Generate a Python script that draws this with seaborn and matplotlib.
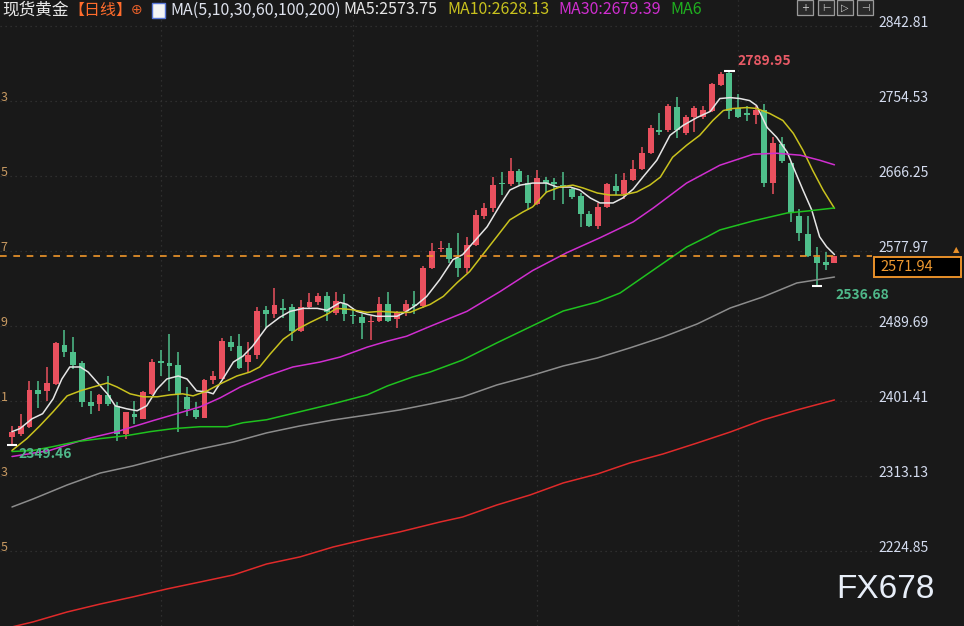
import numpy as np
import pandas as pd
import matplotlib
matplotlib.use("Agg")
import matplotlib.pyplot as plt
import matplotlib.transforms as mtransforms
from matplotlib.patches import Rectangle
import seaborn as sns

# daily candles, spot gold
opens = [2359.4, 2363.0, 2371.1, 2414.4, 2413.3, 2421.5, 2467.1, 2458.9, 2446.0, 2400.4,
         2398.1, 2408.6, 2395.7, 2363.0, 2386.4, 2380.5, 2409.8, 2448.4, 2446.0, 2443.7,
         2406.3, 2391.0, 2381.7, 2426.2, 2427.3, 2470.6, 2465.9, 2447.2, 2455.4, 2508.1,
         2503.4, 2510.4, 2511.6, 2483.5, 2511.6, 2517.4, 2524.5, 2504.6, 2515.1, 2502.2,
         2499.9, 2494.0, 2495.2, 2515.1, 2497.6, 2506.9, 2515.1, 2512.8, 2558.4, 2580.6,
         2581.8, 2570.1, 2558.4, 2585.3, 2619.3, 2628.6, 2657.9, 2656.7, 2671.9, 2657.9,
         2633.3, 2661.4, 2659.1, 2655.6, 2650.9, 2642.7, 2621.6, 2607.6, 2629.8, 2654.4,
         2645.0, 2661.4, 2674.3, 2693.0, 2719.9, 2719.9, 2748.0, 2716.4, 2735.1, 2735.1,
         2743.3, 2773.8, 2787.8, 2745.7, 2739.8, 2737.5, 2744.5, 2657.9, 2703.5, 2681.3,
         2619.3, 2598.2, 2571.3, 2565.4, 2564.3]
highs = [2372.3, 2386.4, 2425.0, 2425.0, 2441.4, 2470.6, 2484.7, 2476.5, 2448.0, 2413.3,
         2409.8, 2430.8, 2400.4, 2389.0, 2401.6, 2413.3, 2450.7, 2461.3, 2480.0, 2458.9,
         2418.0, 2400.4, 2427.3, 2436.7, 2475.3, 2477.6, 2480.0, 2470.6, 2511.6, 2512.8,
         2533.8, 2521.0, 2515.1, 2519.8, 2528.0, 2528.0, 2529.1, 2529.1, 2526.8, 2510.4,
         2503.4, 2501.1, 2523.3, 2529.1, 2506.9, 2519.8, 2530.3, 2560.7, 2587.7, 2590.0,
         2587.7, 2599.4, 2594.7, 2626.3, 2634.5, 2664.9, 2670.8, 2687.2, 2674.3, 2667.3,
         2673.1, 2664.9, 2663.7, 2670.8, 2653.2, 2646.2, 2625.1, 2634.5, 2657.9, 2668.4,
         2669.6, 2684.8, 2700.0, 2725.8, 2739.8, 2751.5, 2759.7, 2737.5, 2749.2, 2749.2,
         2776.1, 2789.0, 2789.95, 2763.2, 2749.2, 2749.2, 2751.5, 2711.7, 2711.7, 2682.5,
         2627.5, 2619.3, 2583.0, 2577.1, 2572.5]
lows = [2349.46, 2360.6, 2370.0, 2393.4, 2401.6, 2420.5, 2453.1, 2439.0, 2394.6, 2386.4,
        2389.9, 2395.0, 2354.8, 2357.1, 2374.7, 2380.0, 2409.0, 2430.8, 2413.3, 2365.3,
        2384.0, 2380.5, 2381.0, 2421.5, 2427.0, 2460.1, 2439.0, 2435.5, 2450.7, 2487.0,
        2498.7, 2498.7, 2471.8, 2483.0, 2509.3, 2513.9, 2495.2, 2503.0, 2495.2, 2491.7,
        2474.1, 2473.0, 2494.0, 2494.0, 2487.0, 2501.1, 2503.4, 2511.0, 2557.0, 2577.1,
        2564.3, 2547.9, 2552.6, 2584.0, 2615.8, 2623.9, 2643.8, 2655.0, 2655.6, 2626.3,
        2632.0, 2646.2, 2638.0, 2633.3, 2639.2, 2606.4, 2606.4, 2604.1, 2628.0, 2643.8,
        2639.2, 2660.0, 2673.0, 2692.0, 2714.1, 2718.0, 2710.6, 2714.1, 2717.6, 2733.0,
        2741.0, 2772.6, 2732.8, 2734.0, 2730.5, 2726.9, 2653.2, 2645.0, 2681.3, 2612.3,
        2590.0, 2571.3, 2536.68, 2556.1, 2564.0]
closes = [2365.3, 2372.3, 2414.4, 2409.8, 2422.6, 2469.5, 2458.9, 2443.7, 2400.4, 2395.7,
          2408.6, 2398.1, 2363.0, 2388.7, 2382.8, 2412.1, 2447.2, 2446.0, 2442.5, 2409.8,
          2392.2, 2382.8, 2426.2, 2430.8, 2471.8, 2464.8, 2440.2, 2455.4, 2506.9, 2503.4,
          2513.9, 2508.1, 2483.5, 2511.6, 2517.4, 2524.5, 2505.7, 2518.6, 2503.4, 2501.1,
          2492.9, 2495.2, 2515.1, 2495.2, 2505.7, 2515.1, 2512.8, 2558.4, 2578.3, 2581.8,
          2568.9, 2558.4, 2585.3, 2620.4, 2628.6, 2655.6, 2656.7, 2671.9, 2659.1, 2634.5,
          2663.7, 2657.9, 2656.7, 2654.4, 2641.5, 2621.6, 2607.6, 2629.8, 2656.7, 2648.5,
          2661.4, 2674.3, 2693.0, 2722.3, 2717.6, 2749.2, 2719.9, 2735.1, 2745.7, 2744.5,
          2774.9, 2786.6, 2743.3, 2735.1, 2737.5, 2744.5, 2657.9, 2704.7, 2683.6, 2622.8,
          2599.4, 2572.5, 2564.3, 2561.9, 2571.94]

# moving averages (candle index, price)
ma5_x = [0, 0.9, 2.3, 3.5, 4.7, 5.7, 6.6, 7.8, 8.7, 9.7, 10.9, 11.8, 13.1, 14.3, 15.4, 16.6,
         17.7, 19.0, 20.0, 21.1, 22.3, 23.0, 24.1, 25.3, 26.4, 27.5, 29.1, 30.6, 31.8, 33.3,
         34.9, 36.0, 37.5, 38.3, 39.4, 40.6, 41.7, 44.0, 45.1, 46.3, 47.4, 48.9, 50.4, 51.5,
         52.7, 54.3, 55.8, 56.9, 58.1, 59.5, 61.1, 62.3, 63.8, 64.9, 66.1, 67.2, 68.7, 69.8,
         71.0, 72.1, 73.7, 75.2, 76.7, 78.3, 79.8, 80.9, 82.1, 83.2, 84.3, 85.1, 86.3, 87.4,
         88.6, 89.3, 90.4, 91.4, 92.3, 93.1, 94]
ma5_y = [2365.3, 2368.8, 2380.5, 2386.4, 2403.9, 2427.3, 2441.4, 2441.4, 2435.5, 2423.8,
         2409.8, 2395.7, 2392.2, 2389.9, 2395.7, 2415.6, 2427.3, 2430.8, 2427.3, 2413.3,
         2412.1, 2409.8, 2427.3, 2447.2, 2454.2, 2465.9, 2488.2, 2499.9, 2506.9, 2510.4,
         2510.4, 2508.1, 2517.4, 2515.1, 2506.9, 2503.4, 2501.1, 2501.1, 2506.9, 2515.1,
         2524.5, 2544.4, 2567.8, 2573.6, 2587.7, 2606.4, 2632.2, 2649.7, 2655.5, 2657.9,
         2657.9, 2653.2, 2653.2, 2649.7, 2640.3, 2634.5, 2634.5, 2640.3, 2650.9, 2664.9,
         2684.8, 2714.1, 2725.8, 2735.1, 2742.2, 2757.4, 2758.5, 2757.4, 2755.0, 2749.2,
         2723.4, 2711.7, 2694.2, 2676.6, 2649.7, 2626.3, 2594.7, 2583.0, 2573.75]
ma10_x = [0, 1.7, 3.2, 4.7, 6.3, 7.8, 9.3, 10.9, 12.0, 13.5, 15.0, 16.6, 18.1, 19.5, 20.7,
          22.3, 23.8, 25.7, 27.2, 28.3, 29.5, 31.0, 32.6, 34.1, 36.0, 37.1, 38.6, 40.6, 42.1,
          44.0, 45.5, 46.6, 47.8, 49.3, 50.9, 52.3, 53.8, 55.4, 56.9, 58.4, 59.5, 61.1, 62.6,
          64.1, 65.3, 66.9, 68.3, 69.8, 71.4, 72.9, 74.1, 75.5, 77.1, 78.6, 80.1, 81.3, 82.4,
          84.0, 85.1, 86.6, 88.1, 89.3, 90.4, 91.5, 92.7, 94]
ma10_y = [2343.1, 2357.1, 2372.3, 2388.7, 2407.4, 2413.3, 2417.9, 2422.6, 2417.9, 2409.8,
          2406.3, 2406.3, 2408.6, 2409.8, 2407.4, 2413.3, 2421.5, 2430.8, 2435.5, 2441.4,
          2456.6, 2474.1, 2485.8, 2494.0, 2503.4, 2510.4, 2509.2, 2505.7, 2506.9, 2505.7,
          2505.7, 2510.4, 2515.1, 2524.5, 2540.9, 2553.7, 2573.6, 2594.7, 2614.6, 2623.9,
          2629.8, 2647.4, 2653.2, 2655.5, 2652.0, 2646.2, 2643.8, 2643.8, 2647.4, 2655.5,
          2664.9, 2688.3, 2702.4, 2714.1, 2731.6, 2743.3, 2745.7, 2746.8, 2745.7, 2739.8,
          2731.6, 2716.4, 2696.5, 2673.1, 2649.7, 2628.13]
ma30_x = [0, 4.3, 8.6, 12.0, 16.1, 19.2, 21.5, 23.8, 26.1, 29.1, 32.1, 35.2, 37.5, 40.6,
          42.9, 45.1, 47.8, 52.0, 55.8, 59.5, 63.4, 67.2, 71.0, 73.3, 77.1, 80.9, 84.7, 87.4,
          90.1, 92.3, 94]
ma30_y = [2336.0, 2343.1, 2357.1, 2365.3, 2378.2, 2387.5, 2394.5, 2405.1, 2417.9, 2430.8,
          2441.4, 2447.2, 2453.1, 2464.8, 2471.8, 2477.6, 2489.3, 2506.9, 2530.3, 2554.9,
          2575.9, 2593.5, 2612.2, 2628.6, 2657.9, 2678.9, 2691.8, 2693.0, 2690.7, 2684.8,
          2679.39]
ma60_x = [0, 2.4, 4.7, 7.4, 10.1, 13.1, 15.8, 18.4, 21.5, 24.6, 26.4, 29.1, 32.9, 36.7,
          40.6, 42.9, 45.8, 47.8, 51.5, 55.4, 59.2, 63.0, 66.9, 69.5, 73.3, 77.1, 79.4, 80.9,
          84.7, 88.6, 90.9, 94]
ma60_y = [2341.9, 2343.1, 2347.7, 2353.6, 2357.1, 2360.6, 2365.3, 2368.8, 2371.1, 2371.1,
          2375.8, 2379.3, 2388.7, 2398.1, 2408.6, 2419.1, 2429.7, 2435.5, 2449.6, 2469.7,
          2488.5, 2507.3, 2517.9, 2528.5, 2555.6, 2582.6, 2594.4, 2602.7, 2613.3, 2622.7,
          2625.0, 2628.6]
ma100_x = [0, 2.4, 6.3, 10.1, 13.8, 17.7, 21.5, 25.3, 29.1, 32.9, 36.7, 40.6, 44.3, 47.8,
           51.5, 55.4, 59.2, 63.0, 66.9, 70.6, 74.4, 78.3, 82.1, 85.8, 89.7, 94]
ma100_y = [2276.6, 2286.0, 2302.5, 2316.6, 2324.9, 2335.5, 2344.9, 2353.1, 2363.8, 2372.0,
           2379.0, 2384.9, 2390.8, 2397.9, 2406.1, 2420.2, 2430.8, 2442.6, 2452.0, 2463.8,
           2476.7, 2492.0, 2510.9, 2523.8, 2540.3, 2547.3]
ma200_x = [0, 2.4, 6.3, 10.1, 13.8, 17.7, 21.5, 25.3, 29.1, 32.9, 36.7, 40.6, 44.3, 48.9,
           51.5, 55.4, 59.2, 63.0, 66.9, 70.6, 74.4, 78.3, 82.1, 85.8, 89.7, 94]
ma200_y = [2135.4, 2141.3, 2153.0, 2162.4, 2170.7, 2180.1, 2188.3, 2196.6, 2209.5, 2217.8,
           2229.5, 2239.0, 2247.2, 2258.9, 2264.8, 2278.9, 2290.7, 2304.9, 2315.4, 2328.4,
           2339.0, 2351.9, 2364.9, 2379.0, 2390.8, 2402.6]

tick_prices = [2842.81, 2754.53, 2666.25, 2577.97, 2489.69, 2401.41, 2313.13, 2224.85]
month_starts = [17, 39, 60, 83]
last_price = 2571.94

BG = "#191919"
UP = "#e9505e"
DOWN = "#4fbf8b"
ma_colors = {"MA5": "#e6e6e6", "MA10": "#c9c21e", "MA30": "#d02ed0",
             "MA60": "#1fc21f", "MA100": "#8c8c8c", "MA200": "#e02a2a"}

sns.set_theme(style="dark", rc={"axes.facecolor": BG, "figure.facecolor": BG})
plt.rcParams["font.family"] = ["Noto Sans CJK SC", "DejaVu Sans"]

W, H = 964, 626


def px(x, y):
    return x / W, 1 - y / H


fig = plt.figure(figsize=(W / 100, H / 100), dpi=100)
ax = fig.add_axes([0, 0, 872 / W, 1])
ax.set_facecolor(BG)
ax.set_xlim(-1.37, 98.29)
ax.set_ylim(2136.5, 2873.4)
for s in ax.spines.values():
    s.set_visible(False)
ax.set_xticks([])
ax.set_yticks([])

# grid
for p in tick_prices:
    ax.axhline(p, color="#363636", lw=0.9, ls=(0, (1, 3)), zorder=0)
for m in month_starts:
    ax.axvline(m, color="#363636", lw=0.9, ls=(0, (1, 3)), zorder=0)

# candles
df = pd.DataFrame({"o": opens, "h": highs, "l": lows, "c": closes})
df["i"] = np.arange(len(df))
df["up"] = df["c"] >= df["o"]
df["bot"] = df[["o", "c"]].min(axis=1)
df["hgt"] = (df["c"] - df["o"]).abs().clip(lower=1.3)
cols = np.where(df["up"], UP, DOWN)
ax.vlines(df["i"], df["l"], df["h"], colors=cols, lw=1.1, zorder=2)
ax.bar(df["i"], df["hgt"], bottom=df["bot"], width=0.68, color=cols, linewidth=0, zorder=2)

# moving averages
ma_frames = []
for name, xs, ys in [("MA5", ma5_x, ma5_y), ("MA10", ma10_x, ma10_y),
                     ("MA30", ma30_x, ma30_y), ("MA60", ma60_x, ma60_y),
                     ("MA100", ma100_x, ma100_y), ("MA200", ma200_x, ma200_y)]:
    ma_frames.append(pd.DataFrame({"idx": xs, "price": ys, "ma": name}))
ma_df = pd.concat(ma_frames, ignore_index=True)
sns.lineplot(data=ma_df, x="idx", y="price", hue="ma", palette=ma_colors, sort=False,
             estimator=None, linewidth=1.1, legend=False, ax=ax, zorder=3)
ax.set_xlabel("")
ax.set_ylabel("")

# last price line
ax.axhline(last_price, color="#f0962a", lw=1.2, ls=(0, (4, 4)), zorder=4)

# extreme markers: window high, window low (first day) and low after the peak
i_hi = int(df["h"].idxmax())
i_first = 0
i_recent = int(df["l"].iloc[i_hi:].idxmin())
for k, price in [(i_hi, df["h"][i_hi]), (i_first, df["l"][i_first]),
                 (i_recent, df["l"][i_recent])]:
    ax.hlines([price], k - 0.6, k + 0.6, color="white", lw=1.5, zorder=5)
ax.text(i_hi + 0.9, df["h"][i_hi] + 12, f"{df['h'][i_hi]:.2f}", color="#e85a66",
        fontsize=10, fontweight="bold", ha="left", va="center", zorder=6)
ax.text(i_recent + 2.1, df["l"][i_recent] - 11, f"{df['l'][i_recent]:.2f}", color="#4fb88a",
        fontsize=10, fontweight="bold", ha="left", va="center", zorder=6)
ax.text(i_first + 0.7, df["l"][i_first] - 11, f"{df['l'][i_first]:.2f}", color="#4fb88a",
        fontsize=10, fontweight="bold", ha="left", va="center", zorder=6)

# right axis labels (plus last digits of the hidden left axis)
trans = mtransforms.blended_transform_factory(fig.transFigure, ax.transData)
trans_up = mtransforms.offset_copy(trans, fig=fig, y=3, units="dots")
for p in tick_prices:
    fig.text(878 / W, p, f"{p:.2f}", transform=trans_up, color="#d4dcef",
             fontsize=10, ha="left", va="center")
for p in tick_prices[1:]:
    fig.text(0.5 / W, p, f"{p:.2f}"[-1], transform=trans_up, color="#c89a62",
             fontsize=9, ha="left", va="center")

# last price box
box_y = ax.transData.transform((0, last_price))[1]
bx, by = 874 / W, (box_y - 21) / H
fig.add_artist(Rectangle((bx, by), 87 / W, 20 / H, transform=fig.transFigure,
                         facecolor="black", edgecolor="#e8902a", lw=1.4))
fig.text(880 / W, (box_y - 11) / H, f"{last_price:.2f}", color="#f09a30",
         fontsize=10.5, ha="left", va="center")
fig.text(*px(956, 250), "▲", color="#e8902a", fontsize=6, ha="center", va="center",
         family=["DejaVu Sans"])

# header
hy = 1 - 10 / H
fig.text(2 / W, hy, "现货黄金", color="#e8e8e8", fontsize=12, va="center")
fig.text(68 / W, hy, "【日线】", color="#ff6c2c", fontsize=11.5, va="center")
fig.text(131 / W, hy, "⊕", color="#e8602a", fontsize=10, va="center",
         family=["DejaVu Sans"])
fig.add_artist(Rectangle(px(152, 18), 13 / W, 15 / H, transform=fig.transFigure,
                         facecolor="#f4f4f4", edgecolor="#5a78d8", lw=1))
fig.text(170 / W, hy, "MA(5,10,30,60,100,200)", color="#dfe3ee", fontsize=11.5, va="center")
fig.text(343 / W, hy, "MA5:2573.75", color="#e6e6e6", fontsize=11.5, va="center")
fig.text(447 / W, hy, "MA10:2628.13", color="#c9c21e", fontsize=11.5, va="center")
fig.text(558 / W, hy, "MA30:2679.39", color="#d02ed0", fontsize=11.5, va="center")
fig.text(670 / W, hy, "MA6", color="#1fb01f", fontsize=11.5, va="center")

# toolbar icons top right
for x0, g in zip([797, 818, 837, 857], ["+", "⊢", "▷", "⊣"]):
    fig.add_artist(Rectangle(px(x0, 15), 16 / W, 15 / H, transform=fig.transFigure,
                             facecolor="#2a2a2a", edgecolor="#9a9a9a", lw=0.9))
    fig.text(*px(x0 + 8, 8), g, color="#d0d0d0", fontsize=7, ha="center", va="center",
             family=["DejaVu Sans"])

# watermark
fig.text(*px(885, 590), "FX678", color="#e8eef8", fontsize=24, ha="center", va="center",
         family=["Liberation Sans"])

fig.savefig("out.png", dpi=100, facecolor=BG)
